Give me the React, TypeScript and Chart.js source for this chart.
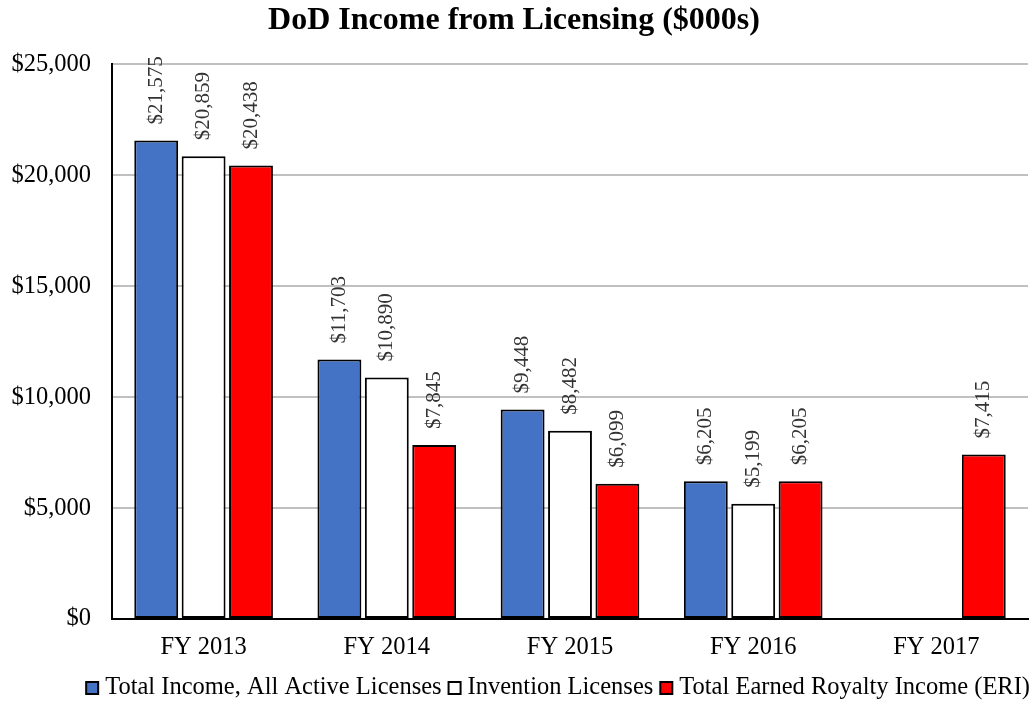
import React, { useEffect, useRef } from "react";
import { Chart, registerables } from "chart.js";

Chart.register(...registerables);

const categories = ["FY 2013", "FY 2014", "FY 2015", "FY 2016", "FY 2017"];
const seriesNames = ["Total Income, All Active Licenses", "Invention Licenses", "Total Earned Royalty Income (ERI)"];
const totalIncome = [21575, 11703, 9448, 6205, null];
const inventionLicenses = [20859, 10890, 8482, 5199, null];
const earnedRoyalty = [20438, 7845, 6099, 6205, 7415];
const yTicks = [0, 5000, 10000, 15000, 20000, 25000];

const FONT = "'Liberation Serif', 'Times New Roman', serif";

const fmt = (v: number) => "$" + v.toLocaleString("en-US");

const labelPlugin = {
  id: "barLabels",
  afterDatasetsDraw(chart: any) {
    const ctx = chart.ctx;
    ctx.save();
    ctx.font = `21px ${FONT}`;
    ctx.fillStyle = "#333333";
    ctx.textAlign = "left";
    ctx.textBaseline = "middle";
    chart.data.datasets.forEach((ds: any, i: number) => {
      const meta = chart.getDatasetMeta(i);
      meta.data.forEach((el: any, j: number) => {
        const v = ds.data[j];
        if (v === null || v === undefined) return;
        ctx.save();
        ctx.translate(el.x, el.y - 16);
        ctx.rotate(-Math.PI / 2);
        ctx.fillText(fmt(v), 0, 0);
        ctx.restore();
      });
    });
    ctx.restore();
  },
};

const legendPlugin = {
  id: "customLegend",
  afterDraw(chart: any) {
    const ctx = chart.ctx;
    ctx.save();
    ctx.font = `24.5px ${FONT}`;
    ctx.textBaseline = "middle";
    ctx.textAlign = "left";
    const box = 12;
    const gapText = 7;
    const gapItem = 7;
    const items = chart.data.datasets.map((ds: any) => ({
      label: ds.label,
      color: ds.backgroundColor,
      w: ctx.measureText(ds.label).width,
    }));
    const total = items.reduce((a: number, it: any) => a + box + gapText + it.w, 0) + gapItem * (items.length - 1);
    let x = chart.chartArea.right + 2 - total;
    const cy = 688;
    items.forEach((it: any) => {
      ctx.fillStyle = it.color;
      ctx.fillRect(x, cy - box / 2, box, box);
      ctx.strokeStyle = "#000";
      ctx.lineWidth = 2;
      ctx.strokeRect(x, cy - box / 2, box, box);
      ctx.fillStyle = "#000";
      ctx.fillText(it.label, x + box + gapText, cy);
      x += box + gapText + it.w + gapItem;
    });
    ctx.restore();
  },
};

export default function App() {
  const ref = useRef<HTMLCanvasElement | null>(null);
  useEffect(() => {
    document.body.style.margin = "0";
    const common = {
      borderColor: "#000000",
      borderWidth: 2,
      borderSkipped: false,
      categoryPercentage: 0.776,
      barPercentage: 0.926,
    };
    const chart = new Chart(ref.current as HTMLCanvasElement, {
      type: "bar",
      data: {
        labels: categories,
        datasets: [
          { label: seriesNames[0], data: totalIncome, backgroundColor: "#4472c4", ...common },
          { label: seriesNames[1], data: inventionLicenses, backgroundColor: "#ffffff", ...common },
          { label: seriesNames[2], data: earnedRoyalty, backgroundColor: "#ff0000", ...common },
        ] as any,
      },
      options: {
        animation: false,
        responsive: false,
        layout: { padding: { left: 0, right: 7, top: 0, bottom: 30 } },
        plugins: {
          title: {
            display: true,
            text: "DoD Income from Licensing ($000s)",
            color: "#000",
            font: { family: FONT, size: 32, weight: "bold" },
            padding: { top: 2, bottom: 24 },
          },
          legend: { display: false },
          tooltip: { enabled: false },
        },
        scales: {
          x: {
            grid: { display: false, drawTicks: false },
            border: { display: true, color: "#000", width: 2 },
            ticks: { color: "#000", font: { family: FONT, size: 24.5 }, padding: 14 },
            afterFit: (s: any) => {
              s.height = 55;
            },
          },
          y: {
            min: 0,
            max: 25000,
            afterBuildTicks: (s: any) => {
              s.ticks = yTicks.map((v) => ({ value: v }));
            },
            grid: { color: "#c0c0c0", lineWidth: 2, drawTicks: false },
            border: { display: true, color: "#000", width: 2 },
            ticks: {
              color: "#000",
              font: { family: FONT, size: 24.5 },
              padding: 21,
              callback: (v: any) => fmt(Number(v)),
            },
            afterFit: (s: any) => {
              s.width = 112;
            },
          },
        },
      } as any,
      plugins: [labelPlugin, legendPlugin],
    });
    return () => chart.destroy();
  }, []);
  return (
    <div style={{ position: "absolute", left: 0, top: 0, width: 1035, height: 704 }}>
      <canvas ref={ref} width={1035} height={704} />
    </div>
  );
}
